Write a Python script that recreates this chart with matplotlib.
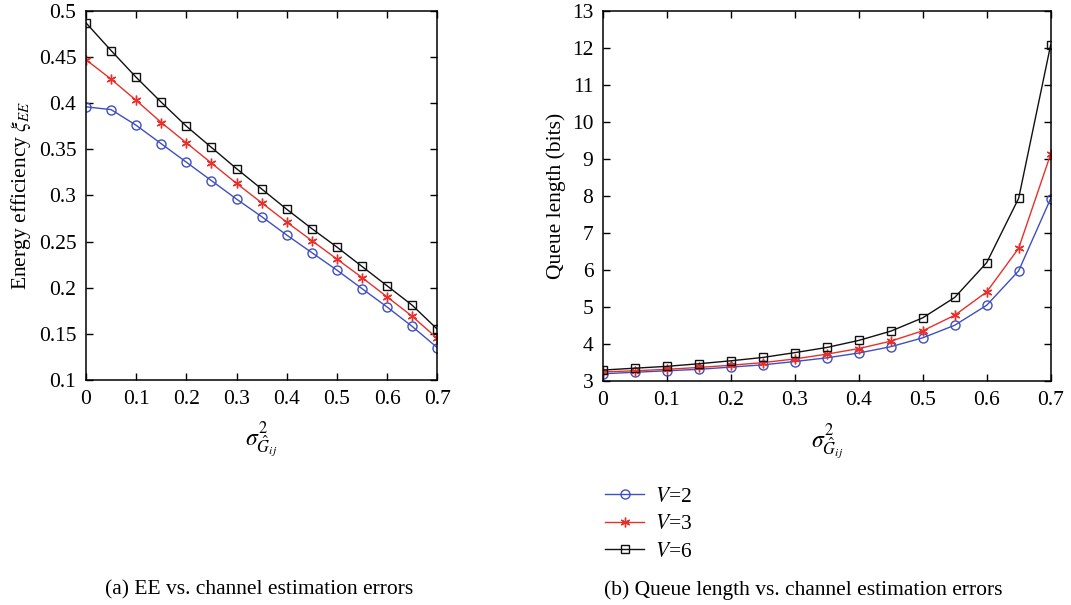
import matplotlib
matplotlib.use("Agg")
import matplotlib.pyplot as plt
from matplotlib.lines import Line2D

plt.rcParams["font.family"] = ["Liberation Serif", "DejaVu Serif"]
plt.rcParams["mathtext.fontset"] = "stix"

sigma2 = [0.0, 0.05, 0.1, 0.15, 0.2, 0.25, 0.3, 0.35, 0.4, 0.45, 0.5, 0.55, 0.6, 0.65, 0.7]

# (a) energy efficiency
ee_v2 = [0.396, 0.393, 0.376, 0.356, 0.336, 0.316, 0.296, 0.277, 0.257, 0.238, 0.219, 0.199, 0.179, 0.158, 0.135]
ee_v3 = [0.447, 0.426, 0.403, 0.379, 0.357, 0.335, 0.313, 0.292, 0.271, 0.251, 0.231, 0.211, 0.190, 0.169, 0.145]
ee_v6 = [0.487, 0.457, 0.428, 0.401, 0.375, 0.352, 0.329, 0.307, 0.285, 0.264, 0.244, 0.223, 0.202, 0.181, 0.155]

# (b) queue length
q_v2 = [3.20, 3.24, 3.28, 3.32, 3.38, 3.44, 3.53, 3.63, 3.76, 3.93, 4.17, 4.51, 5.05, 5.98, 7.93]
q_v3 = [3.25, 3.28, 3.32, 3.37, 3.43, 3.50, 3.60, 3.73, 3.88, 4.08, 4.36, 4.78, 5.41, 6.59, 9.13]
q_v6 = [3.30, 3.35, 3.40, 3.47, 3.55, 3.64, 3.77, 3.91, 4.10, 4.35, 4.71, 5.26, 6.20, 7.94, 12.08]

labels = ["$V$=2", "$V$=3", "$V$=6"]
colors = ["#3f4fbf", "#e8302a", "#111111"]
markers = ["o", (6, 2, 0), "s"]   # circle, asterisk, square
msizes = [6.5, 7, 5.5]

xlabel = r"$\sigma^2_{\hat{G}_{ij}}$"

fig = plt.figure(figsize=(10.71, 6.05), dpi=100)
ax1 = fig.add_axes([0.0803, 0.372, 0.328, 0.610])
ax2 = fig.add_axes([0.563, 0.370, 0.418, 0.612])

for ys, c, m, ms in zip([ee_v2, ee_v3, ee_v6], colors, markers, msizes):
    ax1.plot(sigma2, ys, color=c, marker=m, markersize=ms, markerfacecolor="none",
             markeredgecolor=c, markeredgewidth=1.0, linewidth=1.0)
for ys, c, m, ms in zip([q_v2, q_v3, q_v6], colors, markers, msizes):
    ax2.plot(sigma2, ys, color=c, marker=m, markersize=ms, markerfacecolor="none",
             markeredgecolor=c, markeredgewidth=1.0, linewidth=1.0)

ax1.set_xlim(0, 0.7)
ax1.set_ylim(0.1, 0.5)
ax1.set_xticks([0, 0.1, 0.2, 0.3, 0.4, 0.5, 0.6, 0.7])
ax1.set_xticklabels(["0", "0.1", "0.2", "0.3", "0.4", "0.5", "0.6", "0.7"])
ax1.set_yticks([0.1, 0.15, 0.2, 0.25, 0.3, 0.35, 0.4, 0.45, 0.5])
ax1.set_yticklabels(["0.1", "0.15", "0.2", "0.25", "0.3", "0.35", "0.4", "0.45", "0.5"])
ax1.set_ylabel(r"Energy efficiency $\xi_{EE}$", fontsize=15.5, labelpad=4)

ax2.set_xlim(0, 0.7)
ax2.set_ylim(3, 13)
ax2.set_xticks([0, 0.1, 0.2, 0.3, 0.4, 0.5, 0.6, 0.7])
ax2.set_xticklabels(["0", "0.1", "0.2", "0.3", "0.4", "0.5", "0.6", "0.7"])
ax2.set_yticks(range(3, 14))
ax2.set_ylabel("Queue length (bits)", fontsize=15.5, labelpad=4)

for ax in (ax1, ax2):
    ax.tick_params(direction="in", top=True, right=True, labelsize=15.5, length=5, width=1, pad=7)
    for s in ax.spines.values():
        s.set_linewidth(1.1)
    ax.set_xlabel(xlabel, fontsize=17, labelpad=8)

handles = [Line2D([], [], color=c, marker=m, markersize=ms, markerfacecolor="none",
                  markeredgecolor=c, linewidth=1.0) for c, m, ms in zip(colors, markers, msizes)]
fig.legend(handles, labels, loc="upper left", bbox_to_anchor=(0.547, 0.228),
           frameon=False, fontsize=15.5, handlelength=1.8, handletextpad=0.5, labelspacing=0.35)

fig.text(0.242, 0.017, "(a) EE vs. channel estimation errors", ha="center", va="baseline", fontsize=15.5)
fig.text(0.750, 0.017, "(b) Queue length vs. channel estimation errors", ha="center", va="baseline", fontsize=15.5)

fig.savefig("out.png", dpi=100)
